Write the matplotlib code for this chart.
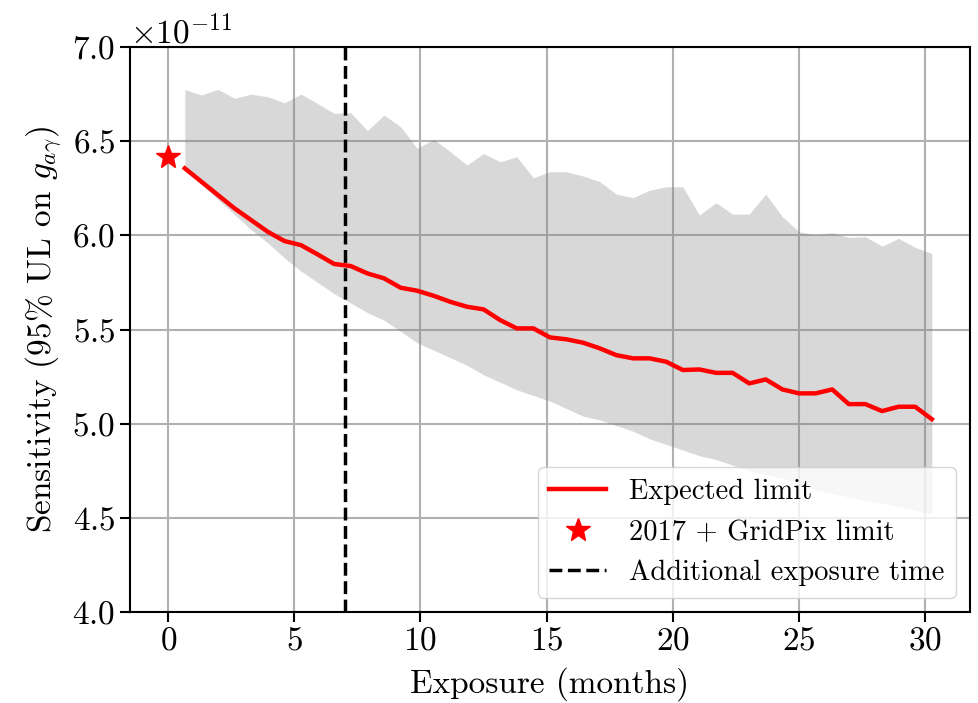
import numpy as np
import matplotlib
matplotlib.use("Agg")
import matplotlib.pyplot as plt

plt.rcParams['font.family'] = 'serif'
plt.rcParams['font.serif'] = ['cmr10']
plt.rcParams['mathtext.fontset'] = 'cm'
plt.rcParams['axes.formatter.use_mathtext'] = True
plt.rcParams['axes.unicode_minus'] = False
plt.rcParams['font.size'] = 24

# exposure in months (20 day steps)
months = [0.658, 1.316, 1.974, 2.632, 3.290, 3.948, 4.606, 5.264, 5.922, 6.580,
          7.238, 7.896, 8.554, 9.212, 9.870, 10.528, 11.186, 11.844, 12.502, 13.160,
          13.818, 14.476, 15.134, 15.792, 16.450, 17.108, 17.766, 18.424, 19.082, 19.740,
          20.398, 21.056, 21.714, 22.372, 23.030, 23.688, 24.346, 25.004, 25.662, 26.320,
          26.978, 27.636, 28.294, 28.952, 29.610, 30.268]

# values in units of 1e-11
expected = [6.356, 6.285, 6.214, 6.143, 6.081, 6.019, 5.970, 5.948, 5.899, 5.848,
            5.837, 5.798, 5.772, 5.722, 5.706, 5.679, 5.647, 5.621, 5.607, 5.550,
            5.506, 5.506, 5.458, 5.448, 5.430, 5.400, 5.364, 5.347, 5.347, 5.329,
            5.285, 5.288, 5.270, 5.270, 5.214, 5.235, 5.182, 5.161, 5.161, 5.182,
            5.104, 5.104, 5.067, 5.090, 5.090, 5.024]

upper = [6.775, 6.745, 6.775, 6.728, 6.750, 6.736, 6.704, 6.750, 6.700, 6.648,
         6.651, 6.556, 6.639, 6.577, 6.462, 6.510, 6.444, 6.373, 6.435, 6.391,
         6.417, 6.306, 6.338, 6.338, 6.315, 6.285, 6.219, 6.200, 6.240, 6.258,
         6.258, 6.108, 6.173, 6.113, 6.113, 6.219, 6.099, 6.019, 6.002, 6.014,
         5.989, 5.993, 5.943, 5.984, 5.936, 5.904]

lower = [6.350, 6.270, 6.190, 6.110, 6.030, 5.960, 5.880, 5.810, 5.750, 5.690,
         5.640, 5.590, 5.550, 5.490, 5.430, 5.390, 5.350, 5.310, 5.260, 5.220,
         5.180, 5.150, 5.120, 5.080, 5.040, 5.020, 4.990, 4.960, 4.920, 4.890,
         4.860, 4.830, 4.810, 4.780, 4.750, 4.730, 4.710, 4.680, 4.650, 4.630,
         4.610, 4.590, 4.580, 4.560, 4.540, 4.520]

current_x = 0.0
current_limit = 6.418
extra_exposure = 7.0

scale = 1e-11
x = np.array(months)

fig = plt.figure(figsize=(9.79, 7.03), dpi=100)
ax = fig.add_axes([0.1328, 0.1294, 0.858, 0.8037])

ax.fill_between(x, np.array(lower) * scale, np.array(upper) * scale,
                color='gray', alpha=0.3, linewidth=0, zorder=2)
ax.plot(x, np.array(expected) * scale, 'r-', lw=3.2, label='Expected limit', zorder=3)
ax.plot([current_x], [current_limit * scale], 'r*', ms=18, ls='none',
        label='2017 + GridPix limit', zorder=4)
ax.axvline(extra_exposure, color='k', ls='--', lw=2.5,
           label='Additional exposure time', zorder=4)

ax.set_ylim(4.0e-11, 7.0e-11)
ax.set_xticks([0, 5, 10, 15, 20, 25, 30])
ax.grid(True, color='#b0b0b0', lw=1.5, zorder=1)
ax.set_axisbelow(True)
for s in ax.spines.values():
    s.set_linewidth(1.5)
ax.tick_params(width=1.5, length=7)

ax.set_xlabel('Exposure (months)', labelpad=8)
ax.set_ylabel(r'Sensitivity (95% UL on $g_{a\gamma}$)', labelpad=6)
ax.legend(loc='lower right', fontsize=20.5)

fig.savefig('out.png', dpi=100)
